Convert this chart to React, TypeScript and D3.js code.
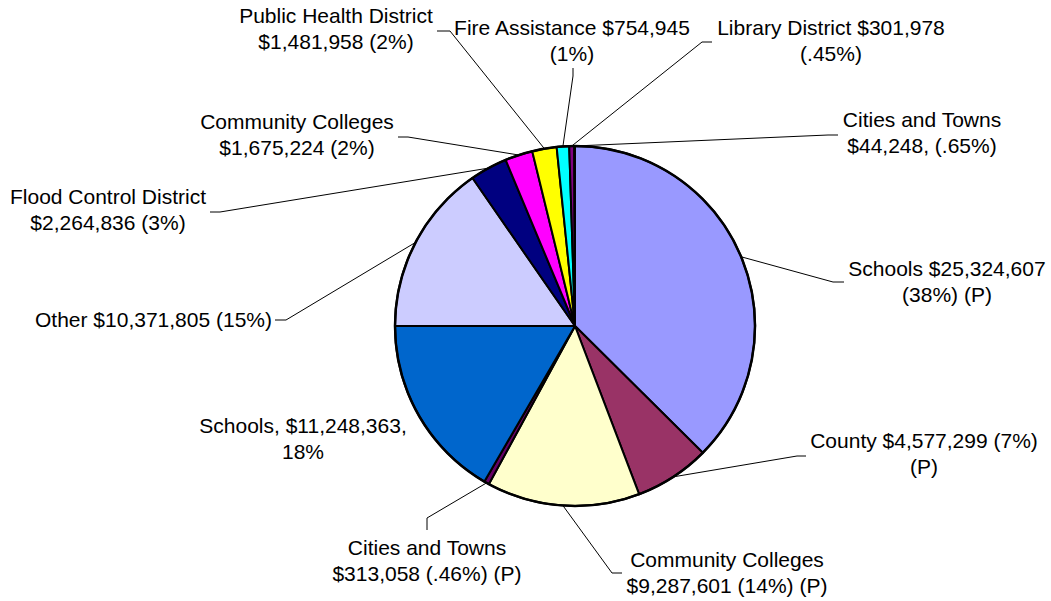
import React from "react";
import * as d3 from "d3";

// ---- Data ----
const categories = [
  "Schools",
  "County",
  "Community Colleges",
  "Cities and Towns",
  "Schools",
  "Other",
  "Flood Control District",
  "Community Colleges",
  "Public Health District",
  "Fire Assistance",
  "Library District",
  "Cities and Towns",
];
const values = [
  25324607, 4577299, 9287601, 313058, 11248363, 10371805, 2264836, 1675224,
  1481958, 754945, 301978, 44248,
];
const labelTexts: string[][] = [
  ["Schools $25,324,607", "(38%) (P)"],
  ["County $4,577,299 (7%)", "(P)"],
  ["Community Colleges", "$9,287,601 (14%) (P)"],
  ["Cities and Towns", "$313,058 (.46%) (P)"],
  ["Schools, $11,248,363,", "18%"],
  ["Other $10,371,805 (15%)"],
  ["Flood Control District", "$2,264,836 (3%)"],
  ["Community Colleges", "$1,675,224 (2%)"],
  ["Public Health District", "$1,481,958 (2%)"],
  ["Fire Assistance $754,945", "(1%)"],
  ["Library District $301,978", "(.45%)"],
  ["Cities and Towns", "$44,248, (.65%)"],
];
const colors = [
  "#9999FF",
  "#993366",
  "#FFFFCC",
  "#660066",
  "#0066CC",
  "#CCCCFF",
  "#000080",
  "#FF00FF",
  "#FFFF00",
  "#00FFFF",
  "#800080",
  "#800000",
];

// ---- Layout (label placement, leader elbows) ----
type Layout = {
  x: number;
  y: number;
  anchor: "middle" | "end" | "start";
  leader: [number, number][] | null;
};
const labelLayout: Layout[] = [
  { x: 947, y: 276, anchor: "middle", leader: [[833, 282], [844, 282]] },
  { x: 924, y: 448, anchor: "middle", leader: [[797, 456], [806, 456]] },
  { x: 727, y: 567, anchor: "middle", leader: [[612, 573], [622, 573]] },
  { x: 427, y: 555, anchor: "middle", leader: [[427, 518], [427, 530]] },
  { x: 303, y: 433, anchor: "middle", leader: null },
  { x: 272, y: 327, anchor: "end", leader: [[286, 320], [275, 320]] },
  { x: 108, y: 204, anchor: "middle", leader: [[220, 212], [210, 212]] },
  { x: 297, y: 129, anchor: "middle", leader: [[408, 137], [398, 137]] },
  { x: 336, y: 23, anchor: "middle", leader: [[450, 31], [437, 31]] },
  { x: 572, y: 35, anchor: "middle", leader: [[573, 76], [573, 68]] },
  { x: 831, y: 35, anchor: "middle", leader: [[702, 42], [712, 42]] },
  { x: 922, y: 127, anchor: "middle", leader: [[828, 135], [838, 135]] },
];

const W = 1051;
const H = 601;
const cx = 575;
const cy = 326;
const R = 180;
const lineGap = 26;

export default function App() {
  const pie = d3
    .pie<number>()
    .sort(null)
    .value((d) => d)
    .startAngle(0)
    .endAngle(2 * Math.PI);
  const arcs = pie(values);
  const arc = d3.arc<d3.PieArcDatum<number>>().innerRadius(0).outerRadius(R);
  const line = d3.line();

  return (
    <svg
      width={W}
      height={H}
      style={{ position: "absolute", left: 0, top: 0, background: "#fff" }}
      fontFamily="'Liberation Sans', Arial, sans-serif"
    >
      <g transform={`translate(${cx},${cy})`}>
        {arcs.map((a, i) => (
          <path
            key={i}
            d={arc(a) || ""}
            fill={colors[i]}
            stroke="#000"
            strokeWidth={2}
            strokeLinejoin="round"
          />
        ))}
        <circle r={R} fill="none" stroke="#000" strokeWidth={2.5} />
      </g>
      {arcs.map((a, i) => {
        const lay = labelLayout[i];
        if (!lay.leader) return null;
        const mid = (a.startAngle + a.endAngle) / 2;
        const start: [number, number] = [
          cx + R * Math.sin(mid),
          cy - R * Math.cos(mid),
        ];
        return (
          <path
            key={"l" + i}
            d={line([start, ...lay.leader]) || ""}
            fill="none"
            stroke="#000"
            strokeWidth={1}
          />
        );
      })}
      {labelTexts.map((lines, i) => {
        const lay = labelLayout[i];
        return (
          <text
            key={"t" + i}
            x={lay.x}
            y={lay.y}
            textAnchor={lay.anchor}
            fontSize={21}
            fill="#000"
          >
            {lines.map((t, j) => (
              <tspan key={j} x={lay.x} y={lay.y + j * lineGap}>
                {t}
              </tspan>
            ))}
          </text>
        );
      })}
    </svg>
  );
}
